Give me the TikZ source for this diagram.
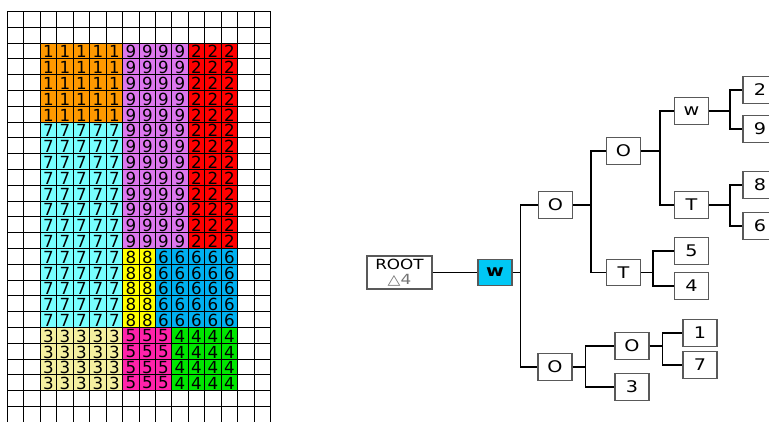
\documentclass[tikz,border=0pt]{standalone}
\usepackage{fontspec}
\setmainfont{DejaVu Sans}
\newfontfamily\treefont[FakeStretch=1.2]{DejaVu Sans}
\usetikzlibrary{positioning}
\definecolor{orangeA}{HTML}{FF9900}
\definecolor{violetA}{HTML}{DD77EE}
\definecolor{redA}{HTML}{FF0000}
\definecolor{cyanA}{HTML}{77FFFF}
\definecolor{yellowA}{HTML}{FFFF00}
\definecolor{blueA}{HTML}{00B0F0}
\definecolor{paleA}{HTML}{F5F0A0}
\definecolor{pinkA}{HTML}{FF22AA}
\definecolor{greenA}{HTML}{00E600}
\definecolor{wfill}{HTML}{00C8F5}

\begin{document}
\begin{tikzpicture}[x=0.75pt, y=-0.75pt,
  declare function={gx(\i)=round(7+\i*16.44)+0.5; gy(\j)=round(11+\j*15.8)+0.5;},
  gridline/.style={draw=black, line width=0.8pt},
  digit/.style={font=\fontsize{12.5}{12.5}\selectfont, inner sep=0pt},
  tbox/.style={draw=black!65, fill=white, line width=0.9pt, minimum width=25.5pt,
    minimum height=20pt, inner sep=0pt, font=\treefont\fontsize{12}{12}\selectfont},
  link/.style={draw=black, line width=1.1pt}]
\useasboundingbox (0,0) rectangle (769,422);
% coloured regions of the grid
\foreach \num/\colour/\ca/\cb/\ra/\rb in {1/orangeA/3/7/3/7, 9/violetA/8/11/3/15, 2/redA/12/14/3/15,
  7/cyanA/3/7/8/20, 8/yellowA/8/9/16/20, 6/blueA/10/14/16/20,
  3/paleA/3/7/21/24, 5/pinkA/8/10/21/24, 4/greenA/11/14/21/24} {
  \fill[\colour] ({gx(\ca-1)},{gy(\ra-1)}) rectangle ({gx(\cb)},{gy(\rb)});
  \foreach \i in {\ca,...,\cb} \foreach \j in {\ra,...,\rb}
    \node[digit] at ({(gx(\i-1)+gx(\i))/2},{(gy(\j-1)+gy(\j))/2+0.5}) {\num};
}
\foreach \i in {0,...,16} \draw[gridline] ({gx(\i)},11) -- ({gx(\i)},422);
\foreach \j in {0,...,26} \draw[gridline] (7,{gy(\j)}) -- ({gx(16)},{gy(\j)});
% tree
\node[tbox, minimum width=48.75pt, minimum height=24.75pt, align=center,
  font=\treefont\fontsize{10.5}{11}\selectfont] (root) at (399.5,272.5) {ROOT\\\textcolor{black!55}{△4}};
\node[tbox, fill=wfill, font=\treefont\fontsize{12}{12}\selectfont\bfseries] (w) at (495,272.5) {w};
\node[tbox] (o1) at (555.5,205) {O};
\node[tbox] (o2) at (623.5,151) {O};
\node[tbox] (w2) at (691.5,111) {w};
\node[tbox] (t2) at (691.5,205) {T};
\node[tbox] (l2) at (760,90) {2};
\node[tbox] (l9) at (760,129) {9};
\node[tbox] (l8) at (760,185) {8};
\node[tbox] (l6) at (760,226) {6};
\node[tbox] (t1) at (623.5,272.5) {T};
\node[tbox] (l5) at (691.5,251) {5};
\node[tbox] (l4) at (691.5,286) {4};
\node[tbox] (o3) at (555,367) {O};
\node[tbox] (o4) at (632,346) {O};
\node[tbox] (l3) at (632,387) {3};
\node[tbox] (l1) at (700,333) {1};
\node[tbox] (l7) at (700,365) {7};
\draw[link] (root.east) -- (w.west);
\foreach \p/\d/\c in {w/8/o1, w/8/o3, o1/18/o2, o1/18/t1, o2/19/w2, o2/19/t2,
  w2/21/l2, w2/21/l9, t2/21/l8, t2/21/l6, t1/12/l5, t1/12/l4,
  o3/13/o4, o3/13/l3, o4/13/l1, o4/13/l7}
  \draw[link] (\p.east) -- ++(\d,0) |- (\c.west);
\end{tikzpicture}
\end{document}
